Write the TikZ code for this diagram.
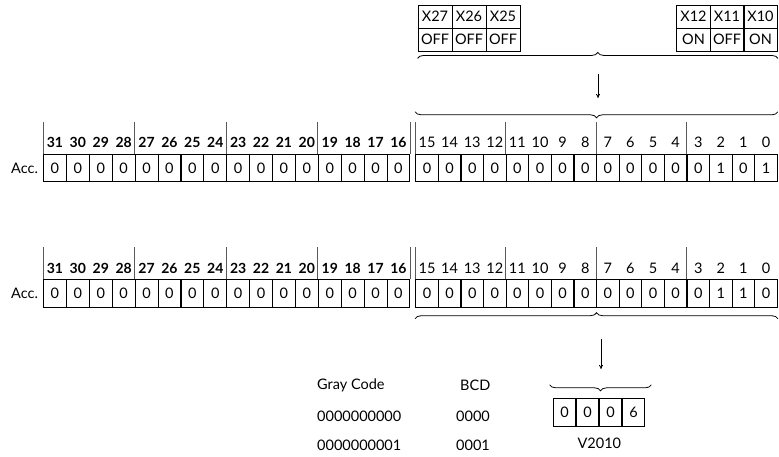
\documentclass[tikz,border=0pt]{standalone}
\usepackage{fontspec}
\setmainfont{Lato}
\usetikzlibrary{arrows.meta,positioning,decorations.pathreplacing}

\begin{document}
\begin{tikzpicture}[x=1pt, y=-1pt,
  font=\fontsize{14.5}{16}\selectfont,
  cell/.style={draw, line width=0.9pt, minimum width=22.8pt, minimum height=27.5pt, inner sep=0pt},
  xcell/.style={draw, line width=0.9pt, minimum width=34pt, minimum height=23pt, inner sep=0pt},
  bitno/.style={inner sep=0pt},
  hibit/.style={bitno, font=\fontsize{14}{16}\selectfont\bfseries},
  sep/.style={draw=black!65, line width=0.9pt},
  brcup/.style={decorate, line width=0.8pt, decoration={brace, mirror, amplitude=6pt}},
  brcdown/.style={decorate, line width=0.8pt, decoration={brace, amplitude=6pt}},
  >={To[length=4pt, width=4pt]}]
\useasboundingbox (0,0) rectangle (779,456);

% input points
\foreach \n/\x/\v in {27/435/OFF, 26/469/OFF, 25/503/OFF, 12/693.5/ON, 11/727/OFF, 10/760.5/ON} {
  \node[xcell] (x\n) at (\x,16.5) {X\n};
  \node[xcell] (s\n) at (\x,39.5) {\v};
}

% accumulator, first row
\foreach \i [evaluate=\i as \b using int(31-\i)] in {0,...,15} {
  \node[cell] (a\b) at (54.95+22.9*\i,168) {0};
  \node[hibit] at (54.95+22.9*\i,142) {\b};
}
\foreach \v [count=\i from 0, evaluate=\i as \b using int(15-\i)] in {0,0,0,0,0,0,0,0,0,0,0,0,0,1,0,1} {
  \node[cell] (a\b) at (427+22.6*\i,168) {\v};
  \node[bitno] at (427+22.6*\i,142) {\b};
}
\node[left=5pt of a31, inner sep=0pt] (acca) {Acc.};
\foreach \b in {31,27,23,19,15,11,7,3}
  \draw[sep] (a\b.north west) -- ++(0,-32);
\draw[sep] (a16.north east) -- ++(0,-32);

% accumulator, second row
\foreach \i [evaluate=\i as \b using int(31-\i)] in {0,...,15} {
  \node[cell] (b\b) at (54.95+22.9*\i,293.5) {0};
  \node[hibit] at (54.95+22.9*\i,268) {\b};
}
\foreach \v [count=\i from 0, evaluate=\i as \b using int(15-\i)] in {0,0,0,0,0,0,0,0,0,0,0,0,0,1,1,0} {
  \node[cell] (b\b) at (427+22.6*\i,293.5) {\v};
  \node[bitno] at (427+22.6*\i,268) {\b};
}
\node[left=5pt of b31, inner sep=0pt] (accb) {Acc.};
\foreach \b in {31,27,23,19,15,11,7,3}
  \draw[sep] (b\b.north west) -- ++(0,-32);
\draw[sep] (b16.north east) -- ++(0,-32);

% result
\foreach \v [count=\i from 0] in {0,0,0,6}
  \node[cell] (v\i) at (564.5+23*\i,412.5) {\v};
\node[below=11pt of v1.south east, inner sep=0pt] (vname) {V2010};

% table
\node[anchor=west, inner sep=0pt] (gray) at (317,385) {Gray Code};
\node[anchor=west, inner sep=0pt] (bcd) at (460,385) {BCD};
\node[anchor=west, inner sep=0pt] (g0) at (317,416) {0000000000};
\node[anchor=west, inner sep=0pt] (c0) at (456,416) {0000};
\node[anchor=west, inner sep=0pt] (g1) at (317,445) {0000000001};
\node[anchor=west, inner sep=0pt] (c1) at (456,445) {0001};

% braces and arrows
\draw[brcdown] ([yshift=-7pt]s27.south west) -- ([yshift=-7pt]s10.south east);
\coordinate (p1) at (598,74);
\coordinate (p2) at (598,98);
\draw[->, line width=0.8pt] (p1) -- (p2);
\draw[brcup] ([yshift=42pt]a15.north west) -- ([yshift=42pt]a0.north east);
\draw[brcdown] ([yshift=-11pt]b15.south west) -- ([yshift=-11pt]b0.south east);
\coordinate (p3) at (601,339);
\coordinate (p4) at (601,369);
\draw[->, line width=0.8pt] (p3) -- (p4);
\draw[brcup] ([xshift=-3pt, yshift=13.5pt]v0.north west) -- ([xshift=6pt, yshift=13.5pt]v3.north east);
\end{tikzpicture}
\end{document}
